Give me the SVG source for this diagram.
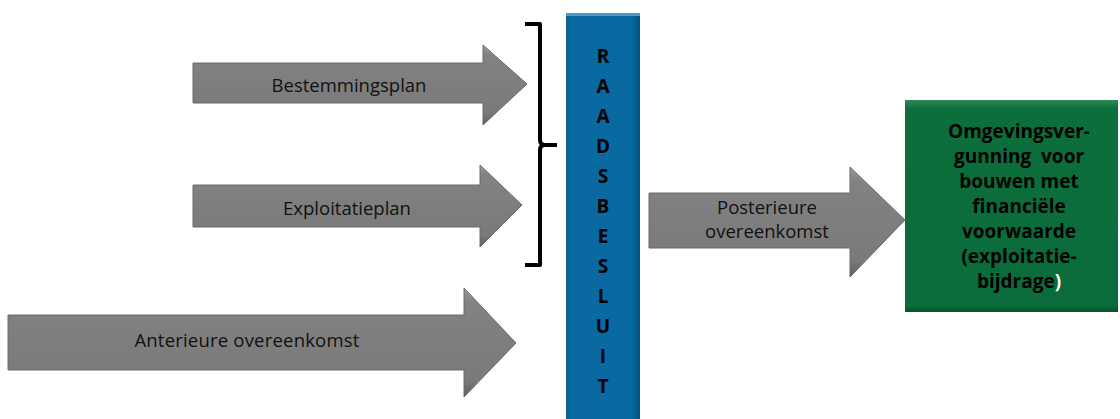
<svg xmlns="http://www.w3.org/2000/svg" width="1120" height="419" viewBox="0 0 1120 419">
<defs>
<linearGradient id="gArrow" x1="0" y1="0" x2="0" y2="1">
<stop offset="0" stop-color="#9a9a9a"/>
<stop offset="0.12" stop-color="#828282"/>
<stop offset="0.85" stop-color="#7a7a7a"/>
<stop offset="1" stop-color="#5e5e5e"/>
</linearGradient>
<linearGradient id="gBar" x1="0" y1="0" x2="1" y2="0">
<stop offset="0" stop-color="#0c5f8f"/>
<stop offset="0.08" stop-color="#0a6aa0"/>
<stop offset="0.9" stop-color="#0868a0"/>
<stop offset="1" stop-color="#05507c"/>
</linearGradient>
<linearGradient id="gGreen" x1="0" y1="0" x2="0" y2="1">
<stop offset="0" stop-color="#2e8a55"/>
<stop offset="0.04" stop-color="#0b6e3b"/>
<stop offset="0.97" stop-color="#0a6c3a"/>
<stop offset="1" stop-color="#075028"/>
</linearGradient>
<style>
.arrow{fill:url(#gArrow);stroke:#6a6a6a;stroke-width:1}
.lbl{font-family:"Open Sans","Liberation Sans",sans-serif;font-size:18.5px;fill:#111;text-anchor:middle}
.bar{font-family:"Open Sans","Liberation Sans",sans-serif;font-size:19px;font-weight:bold;fill:#000;text-anchor:middle}
.box{font-family:"Open Sans","Liberation Sans",sans-serif;font-size:19px;font-weight:bold;fill:#000;text-anchor:middle}
.brk{fill:none;stroke:#000;stroke-width:4;stroke-linejoin:round}
</style>
</defs>
<rect width="1120" height="419" fill="#fff"/>

<g id="connectors">
<path class="brk" d="M525,24 H540 V140 Q540,145 545,145 H557 M545,145 Q540,145 540,150 V265 H525"/>
</g>

<g id="bestemmingsplan">
<path class="arrow" d="M193,63 H483 V45 L527,84 L483,125 V103 H193 Z"/>
<text class="lbl" x="349" y="92">Bestemmingsplan</text>
</g>

<g id="exploitatieplan">
<path class="arrow" d="M193,185 H480 V165 L522,205 L480,247 V227 H193 Z"/>
<text class="lbl" x="347" y="215">Exploitatieplan</text>
</g>

<g id="anterieure">
<path class="arrow" d="M8,315 H464 V288 L516,343 L464,397 V370 H8 Z"/>
<text class="lbl" x="247" y="347" letter-spacing="0.2">Anterieure overeenkomst</text>
</g>

<g id="raadsbesluit">
<rect x="566" y="13" width="74" height="406" fill="url(#gBar)"/>
<rect x="566" y="13" width="74" height="3" fill="#4a9ccc"/>
<text class="bar" x="603" y="63">R</text>
<text class="bar" x="603" y="93">A</text>
<text class="bar" x="603" y="123">A</text>
<text class="bar" x="603" y="153">D</text>
<text class="bar" x="603" y="183">S</text>
<text class="bar" x="603" y="213">B</text>
<text class="bar" x="603" y="243">E</text>
<text class="bar" x="603" y="273">S</text>
<text class="bar" x="603" y="303">L</text>
<text class="bar" x="603" y="333">U</text>
<text class="bar" x="603" y="363">I</text>
<text class="bar" x="603" y="393">T</text>
</g>

<g id="posterieure">
<path class="arrow" d="M649,193 H850 V167 L905,220 L850,277 V248 H649 Z"/>
<text class="lbl" x="767" y="214">Posterieure</text>
<text class="lbl" x="767" y="238">overeenkomst</text>
</g>

<g id="omgevingsvergunning">
<rect x="905" y="100" width="213" height="212" fill="url(#gGreen)"/>
<text class="box" x="1019" y="138">Omgevingsver-</text>
<text class="box" x="1019" y="163" xml:space="preserve">gunning  voor</text>
<text class="box" x="1019" y="188">bouwen met</text>
<text class="box" x="1019" y="213">financiële</text>
<text class="box" x="1019" y="238">voorwaarde</text>
<text class="box" x="1019" y="263">(exploitatie-</text>
<text class="box" x="1019" y="288">bijdrage<tspan fill="#fff">)</tspan></text>
</g>
</svg>
